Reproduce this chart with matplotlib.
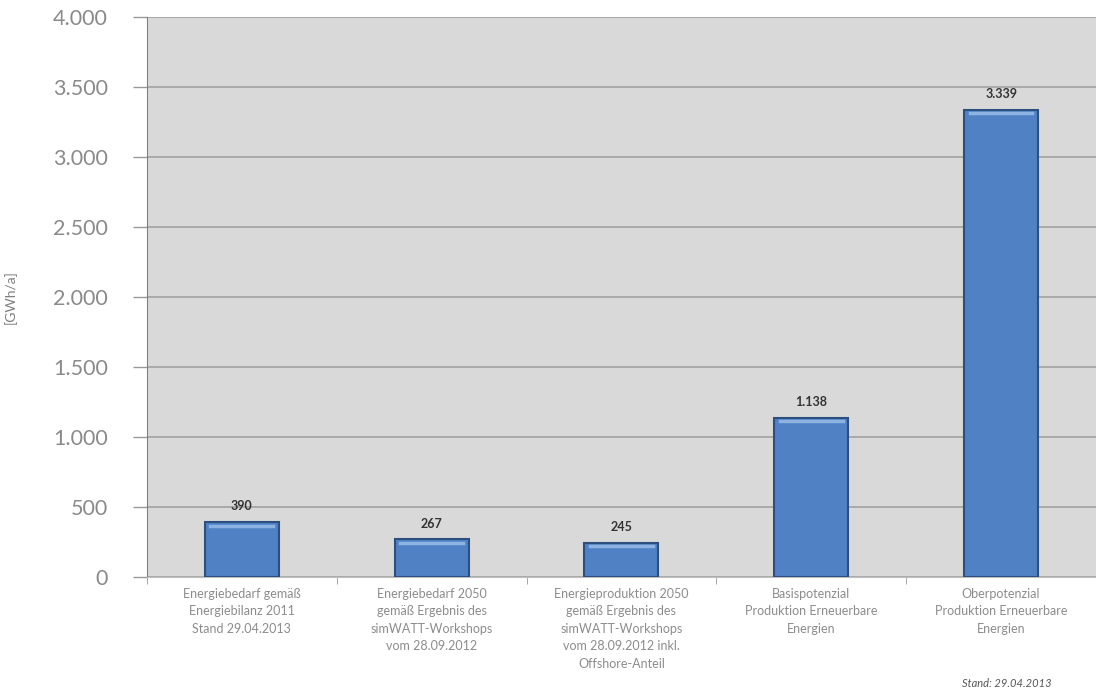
import numpy as np
import matplotlib.pyplot as plt
from matplotlib.ticker import FuncFormatter

categories = [
    "Energiebedarf gemäß\nEnergiebilanz 2011\nStand 29.04.2013",
    "Energiebedarf 2050\ngemäß Ergebnis des\nsimWATT-Workshops\nvom 28.09.2012",
    "Energieproduktion 2050\ngemäß Ergebnis des\nsimWATT-Workshops\nvom 28.09.2012 inkl.\nOffshore-Anteil",
    "Basispotenzial\nProduktion Erneuerbare\nEnergien",
    "Oberpotenzial\nProduktion Erneuerbare\nEnergien",
]
values = [390, 267, 245, 1138, 3339]
value_labels = ["390", "267", "245", "1.138", "3.339"]
yticks = [0, 500, 1000, 1500, 2000, 2500, 3000, 3500, 4000]

plt.rcParams['font.family'] = ['Lato', 'DejaVu Sans']

fig = plt.figure(figsize=(10.96, 6.95), dpi=100)
ax = fig.add_axes([0.134, 0.170, 0.866, 0.8055])
ax.set_facecolor("#d9d9d9")

x = np.arange(len(values))
bars = ax.bar(x, values, width=0.39, color="#4f81c4", edgecolor="#2b4f7e",
              linewidth=1.5, zorder=3)
# light highlight on top of each bar
for b in bars:
    ax.plot([b.get_x() + 0.03, b.get_x() + b.get_width() - 0.03],
            [b.get_height() - 25] * 2, color="#8db3e2", lw=2.5, zorder=4)

for xi, v, lab in zip(x, values, value_labels):
    ax.text(xi, v + 70, lab, ha="center", va="bottom", fontsize=9,
            fontweight="bold", color="#333333")

ax.set_xlim(-0.5, len(values) - 0.5)
ax.set_ylim(0, 4000)
ax.set_yticks(yticks)
ax.yaxis.set_major_formatter(FuncFormatter(lambda v, p: f"{int(v):,}".replace(",", ".")))
ax.tick_params(axis="y", labelsize=15.5, colors="#8a8a8a", length=10, width=1, pad=18)
ax.tick_params(axis="y", color="#999999")
ax.yaxis.grid(True, color="#a6a6a6", lw=1.3, zorder=1)
ax.set_axisbelow(True)

ax.set_xticks(x)
ax.set_xticklabels(categories, fontsize=9, color="#8c8c8c", linespacing=1.55)
ax.tick_params(axis="x", length=0, pad=8)
ax.set_xticks(np.arange(len(values) + 1) - 0.5, minor=True)
ax.tick_params(axis="x", which="minor", length=5, color="#999999")

for s in ["top", "right"]:
    ax.spines[s].set_visible(False)
ax.spines["left"].set_color("#808080")
ax.spines["bottom"].set_color("#bfbfbf")

ax.set_ylabel("[GWh/a]", fontsize=10, color="#808080", labelpad=26)

fig.text(0.878, 0.008, "Stand: 29.04.2013", fontsize=8, style="italic",
         color="#555555", ha="left", va="bottom")

fig.savefig("out.png", dpi=100)
